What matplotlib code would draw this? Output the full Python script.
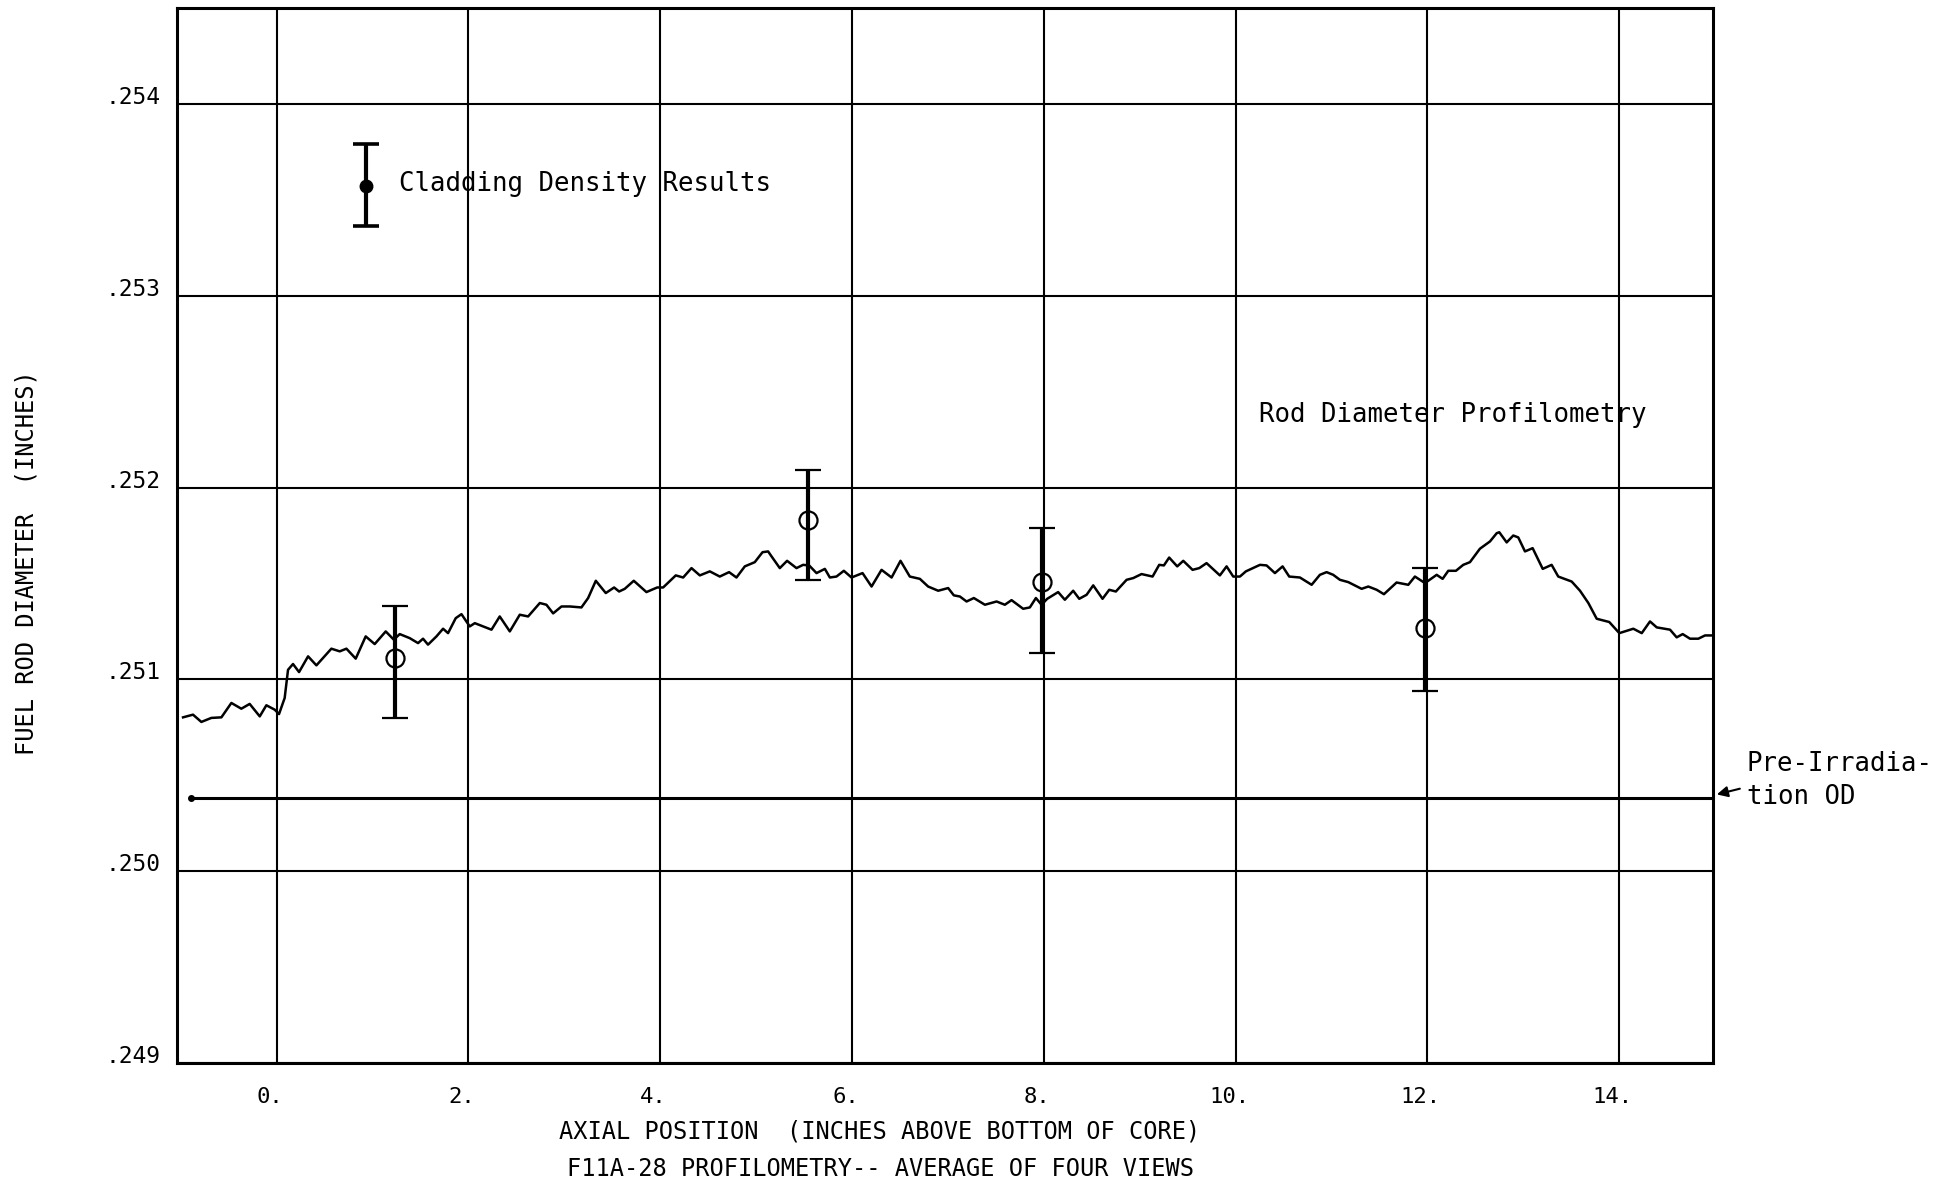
import matplotlib
matplotlib.use("Agg")
import matplotlib.pyplot as plt
import matplotlib.transforms as mtransforms
import numpy as np

# ---------------- data ----------------
x_ticks = [0, 2, 4, 6, 8, 10, 12, 14]
x_tick_labels = ["0.", "2.", "4.", "6.", "8.", "10.", "12.", "14."]
y_ticks = [0.249, 0.250, 0.251, 0.252, 0.253, 0.254]
y_tick_labels = [".249", ".250", ".251", ".252", ".253", ".254"]

profile_x = [-0.977, -0.873, -0.786, -0.682, -0.577, -0.473, -0.369, -0.282, -0.177, -0.108,
             -0.021, 0.024, 0.083, 0.118, 0.170, 0.233, 0.327, 0.414, 0.570, 0.657,
             0.727, 0.824, 0.928, 1.022, 1.137, 1.221, 1.283, 1.387, 1.474, 1.526,
             1.578, 1.666, 1.735, 1.787, 1.867, 1.927, 2.013, 2.066, 2.240, 2.326,
             2.431, 2.535, 2.622, 2.744, 2.813, 2.883, 2.970, 3.057,
             3.178, 3.248, 3.328, 3.432, 3.519, 3.571, 3.630, 3.724, 3.856, 3.968,
             4.030, 4.162, 4.239, 4.326, 4.413, 4.517, 4.621, 4.718, 4.795, 4.882,
             4.986, 5.067, 5.125, 5.161, 5.247, 5.323, 5.421, 5.490, 5.553, 5.630,
             5.717, 5.769, 5.838, 5.915, 5.995, 6.110, 6.204, 6.308, 6.413, 6.506,
             6.603, 6.708, 6.794, 6.899, 7.003, 7.062,
             7.125, 7.195, 7.271, 7.386, 7.508, 7.594, 7.664, 7.785, 7.855, 7.918,
             7.977, 8.036, 8.150, 8.220, 8.307, 8.370, 8.447, 8.516, 8.613, 8.683,
             8.752, 8.864, 8.933, 9.020, 9.135, 9.204, 9.253, 9.308, 9.392, 9.455,
             9.552, 9.622, 9.698, 9.837, 9.907, 9.976, 10.046, 10.108, 10.255, 10.324,
             10.411, 10.491, 10.560, 10.672, 10.794, 10.880, 10.950, 11.019, 11.089, 11.176,
             11.315, 11.385, 11.472, 11.548, 11.680, 11.802, 11.871, 11.976, 12.098, 12.160,
             12.219, 12.299, 12.375, 12.445, 12.549, 12.654, 12.724, 12.751, 12.828, 12.897,
             12.949, 13.019, 13.099, 13.204, 13.297, 13.366, 13.506, 13.593, 13.680, 13.767,
             13.898, 14.003, 14.149, 14.237, 14.323, 14.393, 14.532, 14.601, 14.664, 14.740,
             14.827, 14.897, 14.983]

profile_d = [0.250802, 0.250816, 0.250778, 0.250799, 0.250802, 0.250877, 0.250847, 0.250872, 0.250807, 0.250865,
             0.250842, 0.250819, 0.250903, 0.251050, 0.251080, 0.251038, 0.251120, 0.251073, 0.251160, 0.251146,
             0.251160, 0.251108, 0.251224, 0.251184, 0.251250, 0.251207, 0.251236, 0.251215, 0.251189, 0.251212,
             0.251181, 0.251224, 0.251264, 0.251241, 0.251319, 0.251340, 0.251276, 0.251293, 0.251259, 0.251328,
             0.251250, 0.251337, 0.251328, 0.251398, 0.251389, 0.251344, 0.251380, 0.251380,
             0.251375, 0.251424, 0.251514, 0.251450, 0.251479, 0.251458, 0.251472, 0.251514, 0.251455, 0.251479,
             0.251479, 0.251542, 0.251531, 0.251580, 0.251542, 0.251563, 0.251536, 0.251559, 0.251531, 0.251589,
             0.251611, 0.251663, 0.251667, 0.251641, 0.251580, 0.251618, 0.251580, 0.251597, 0.251594, 0.251554,
             0.251576, 0.251531, 0.251536, 0.251566, 0.251531, 0.251554, 0.251484, 0.251571, 0.251531, 0.251618,
             0.251536, 0.251524, 0.251484, 0.251462, 0.251476, 0.251438,
             0.251432, 0.251406, 0.251424, 0.251389, 0.251406, 0.251389, 0.251413, 0.251368, 0.251375, 0.251424,
             0.251389, 0.251420, 0.251455, 0.251415, 0.251462, 0.251420, 0.251441, 0.251490, 0.251420, 0.251467,
             0.251458, 0.251519, 0.251528, 0.251549, 0.251536, 0.251597, 0.251594, 0.251635, 0.251589, 0.251618,
             0.251571, 0.251580, 0.251606, 0.251542, 0.251589, 0.251536, 0.251536, 0.251563, 0.251597, 0.251594,
             0.251554, 0.251589, 0.251536, 0.251531, 0.251493, 0.251545, 0.251559, 0.251545, 0.251519, 0.251507,
             0.251472, 0.251484, 0.251467, 0.251444, 0.251505, 0.251493, 0.251536, 0.251502, 0.251545, 0.251524,
             0.251566, 0.251566, 0.251597, 0.251611, 0.251681, 0.251719, 0.251762, 0.251767, 0.251714, 0.251750,
             0.251740, 0.251667, 0.251684, 0.251576, 0.251597, 0.251536, 0.251510, 0.251462, 0.251398, 0.251316,
             0.251299, 0.251241, 0.251264, 0.251241, 0.251302, 0.251271, 0.251259, 0.251219, 0.251236, 0.251212,
             0.251212, 0.251229, 0.251229]

# cladding density results (point, lower end, upper end)
density_x = [1.231, 5.543, 7.977, 11.976]
density_d = [0.25111, 0.25183, 0.25151, 0.25127]
density_lo = [0.25080, 0.25152, 0.25114, 0.25094]
density_hi = [0.25138, 0.25209, 0.25179, 0.25158]

# legend sample
legend_x = [0.928]
legend_d = [0.25357]
legend_lo = [0.253365]
legend_hi = [0.253792]

# pre-irradiation outside diameter
pre_od = 0.25038
pre_od_start = -0.897

# ---------------- figure ----------------
W, H, DPI = 1956, 1186, 100
fig = plt.figure(figsize=(W / DPI, H / DPI), dpi=DPI)
fig.patch.set_facecolor("white")
ax = fig.add_axes([177 / W, 1 - 1063 / H, (1713 - 177) / W, (1063 - 8) / H])

MONO = "DejaVu Sans Mono"

ax.set_xlim(-1.04, 14.98)
ax.set_ylim(0.249, 0.2545)

ax.set_xticks(x_ticks, x_tick_labels, fontfamily=MONO, fontsize=16)
ax.set_yticks(y_ticks, y_tick_labels, fontfamily=MONO, fontsize=16.5, va="baseline")
ax.tick_params(axis="x", length=0, pad=17)
ax.tick_params(axis="y", length=0, pad=12)
off = mtransforms.ScaledTranslation(-6.5 / DPI, 0, fig.dpi_scale_trans)
for lbl in ax.get_xticklabels():
    lbl.set_transform(lbl.get_transform() + off)

ax.grid(True, color="black", linewidth=1.5)
for s in ax.spines.values():
    s.set_linewidth(2.2)
    s.set_color("black")

# profile curve
ax.plot(profile_x, profile_d, color="black", linewidth=1.8, zorder=3)

# pre-irradiation line
xmax = ax.get_xlim()[1]
ax.hlines(pre_od, pre_od_start, xmax, colors="black", linewidth=2.2, zorder=3)
ax.plot([pre_od_start], [pre_od], "o", color="black", markersize=4, zorder=3)

# cladding density error bars
dd = np.array(density_d)
ax.errorbar(density_x, density_d,
            yerr=[dd - np.array(density_lo), np.array(density_hi) - dd],
            fmt="o", mfc="none", mec="black", ms=13, mew=1.6,
            ecolor="black", elinewidth=3.0, capsize=9.5, capthick=2.6, zorder=4)

ld = np.array(legend_d)
ax.errorbar(legend_x, legend_d,
            yerr=[ld - np.array(legend_lo), np.array(legend_hi) - ld],
            fmt="o", mfc="black", mec="black", ms=9,
            ecolor="black", elinewidth=3.0, capsize=9.5, capthick=2.6, zorder=4)

ax.text(1.273, 0.253583, "Cladding Density Results", fontfamily=MONO, fontsize=18.5,
        ha="left", va="center", zorder=5)
ax.text(10.244, 0.25238, "Rod Diameter Profilometry", fontfamily=MONO, fontsize=18.5,
        ha="left", va="center", zorder=5)
ax.text(15.33, 0.250521, "Pre-Irradia-", fontfamily=MONO, fontsize=18.5,
        ha="left", va="baseline", clip_on=False)
ax.text(15.33, 0.250349, "tion OD", fontfamily=MONO, fontsize=18.5,
        ha="left", va="baseline", clip_on=False)
ax.annotate("", xy=(15.02, 0.250400), xytext=(15.26, 0.250430),
            arrowprops=dict(arrowstyle="-|>", color="black", lw=1.5, mutation_scale=16,
                            shrinkA=0, shrinkB=0),
            annotation_clip=False)

# axis titles
fig.text(879.5 / W, 1 - 1132 / H, "AXIAL POSITION  (INCHES ABOVE BOTTOM OF CORE)",
         fontfamily=MONO, fontsize=17, ha="center", va="center")
fig.text(881 / W, 1 - 1169 / H, "F11A-28 PROFILOMETRY-- AVERAGE OF FOUR VIEWS",
         fontfamily=MONO, fontsize=17, ha="center", va="center")
fig.text(27 / W, 1 - 563 / H, "FUEL ROD DIAMETER  (INCHES)",
         fontfamily=MONO, fontsize=17, ha="center", va="center", rotation=90)

fig.savefig("out.png", dpi=DPI)
